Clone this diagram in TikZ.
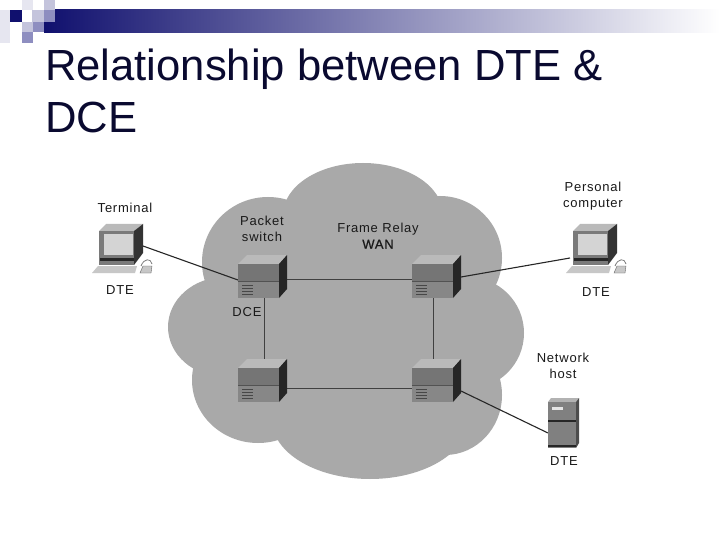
\documentclass[tikz,border=0pt]{standalone}
\usepackage{fontspec}
\setmainfont{Liberation Sans}
\definecolor{cloudc}{HTML}{A9A9A9}
\definecolor{navy}{HTML}{10106E}
\definecolor{bandmid}{HTML}{B0B0C8}
\definecolor{titlec}{HTML}{0A0A30}
\definecolor{sqa}{HTML}{8E8EC0}
\definecolor{sqb}{HTML}{C4C4DC}
\definecolor{sqc}{HTML}{E6E6F0}
\tikzset{
  lbl/.style={font=\fontsize{13}{16}\selectfont\addfontfeature{LetterSpace=6},text=black!90,inner sep=0pt,align=center},
  link/.style={draw=black!75,line width=0.8pt},
  dtelink/.style={draw=black!85,line width=1.1pt},
  anchorbox/.style={inner sep=0pt,minimum width=10pt,minimum height=10pt},
  router/.pic={
    \fill[black!27] (0,0)--(9,-9)--(49,-9)--(41,0)--cycle;
    \fill[black!85] (41,0)--(49,-9)--(49,25)--(41,34)--cycle;
    \fill[black!54] (0,0) rectangle (41,17);
    \fill[black!47] (0,18) rectangle (41,34);
    \draw[black!68,line width=0.7pt] (0,17.5)--(41,17.5);
    \foreach \yy in {21.5,24.5,27.5,30.5}{\draw[black!72,line width=0.8pt] (4,\yy)--(15,\yy);}
  },
  terminalpic/.pic={
    \fill[black!27] (0,0)--(7,-7)--(44,-7)--(35,0)--cycle;
    \fill[black!80] (35,0)--(44,-7)--(44,22)--(35,34)--cycle;
    \fill[black!52] (0,0) rectangle (35,34);
    \fill[black!17] (5,3) rectangle (34,24);
    \fill[black!85] (1,27) rectangle (35,29.5);
    \fill[black!22] (-1,35)--(38,35)--(36,42)--(-7,42)--cycle;
    \draw[black!55,line width=0.7pt] (42,35) .. controls (45,27) and (52,27) .. (53,33);
    \fill[black!22,draw=black!60,line width=0.4pt] (44,35)--(53,35)--(52,42)--(41,42)--cycle;
  },
}
\begin{document}
\begin{tikzpicture}[x=1pt,y=-1pt]
\useasboundingbox (0,0) rectangle (720,540);
\fill[white] (0,0) rectangle (720,540);
% banner
\shade[left color=navy,middle color=bandmid,right color=white] (44,10) rectangle (720,33);
\fill[navy] (10,10) rectangle (22,22);
\fill[sqc] (0,10) rectangle (10,43);
\fill[sqc] (22,0) rectangle (33,10);
\fill[sqb] (44,0) rectangle (55,10);
\fill[sqb] (32,10) rectangle (44,22);
\fill[sqa] (44,10) rectangle (55,22);
\fill[sqb] (22,22) rectangle (33,32);
\fill[sqa] (33,22) rectangle (44,32);
\fill[sqa] (22,32) rectangle (33,43);
% title
\node[anchor=base west,inner sep=0pt,text=titlec,align=left,font=\fontsize{43.6}{52}\selectfont] (title) at (45,133) {Relationship between DTE \&\\DCE};
% cloud
\fill[cloudc] (363,215) ellipse [x radius=80,y radius=52];
\fill[cloudc] (268,262) ellipse [x radius=66,y radius=65];
\fill[cloudc] (440,258) ellipse [x radius=62,y radius=62];
\fill[cloudc] (225,327) ellipse [x radius=57,y radius=50];
\fill[cloudc] (258,380) ellipse [x radius=66,y radius=63];
\fill[cloudc] (370,420) ellipse [x radius=98,y radius=59];
\fill[cloudc] (445,395) ellipse [x radius=57,y radius=60];
\fill[cloudc] (468,333) ellipse [x radius=56,y radius=56];
\fill[cloudc] (345,320) circle (100);
% device anchors
\node[anchorbox] (r1) at (264,279) {};
\node[anchorbox] (r2) at (433,279) {};
\node[anchorbox] (r3) at (264,388) {};
\node[anchorbox] (r4) at (433,388) {};
\coordinate (term) at (143,246);
\coordinate (pc) at (570,258);
\coordinate (host) at (548,433);
\coordinate (r1in) at (238,280);
\coordinate (r2out) at (461,277);
\coordinate (r4out) at (461,391);
% links
\draw[link] (r1.center) -- (r2.center);
\draw[link] (r1.center) -- (r3.center);
\draw[link] (r2.center) -- (r4.center);
\draw[link] (r3.center) -- (r4.center);
\draw[dtelink] (term) -- (r1in);
\draw[dtelink] (r2out) -- (pc);
\draw[dtelink] (r4out) -- (host);
% routers
\pic at (238,264) {router};
\pic at (412,264) {router};
\pic at (238,368) {router};
\pic at (412,368) {router};
% terminals
\pic at (99,231) {terminalpic};
\pic at (573,231) {terminalpic};
% host
\fill[black!30] (548,402)--(551,398)--(579,398)--(576,402)--cycle;
\fill[black!70] (576,402)--(579,398)--(579,443)--(576,448)--cycle;
\fill[black!50] (548,402) rectangle (576,448);
\fill[black!10] (552,407) rectangle (563,410);
\fill[black!85] (548,420) rectangle (576,421.5);
\fill[black!85] (548,445) rectangle (576,447);
% labels
\node[lbl] (l1) at (125,208) {Terminal};
\node[lbl] (l2) at (120,290) {DTE};
\node[lbl] (l3) at (262,228.5) {Packet\\switch};
\node[lbl] (l4) at (247,312) {DCE};
\node[lbl] (l5) at (378,236) {Frame Relay\\{\addfontfeature{FakeBold=0.8}WAN}};
\node[lbl] (l6) at (593,196) {Personal\\computer};
\node[lbl] (l7) at (596,292) {DTE};
\node[lbl] (l8) at (563,366) {Network\\host};
\node[lbl] (l9) at (564,461) {DTE};
\end{tikzpicture}
\end{document}
